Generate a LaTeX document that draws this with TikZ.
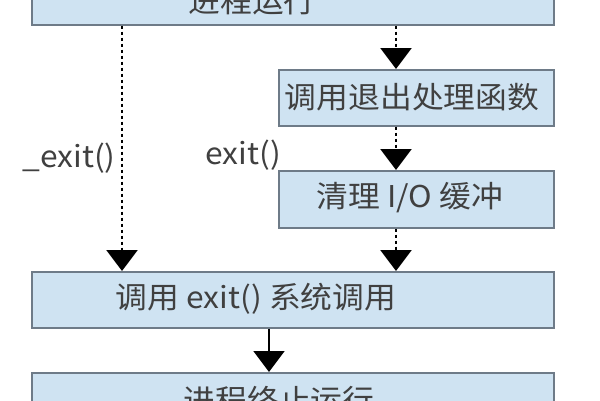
\documentclass[tikz,border=0pt]{standalone}
\usepackage{fontspec}
\setmainfont{Noto Sans CJK SC}[FakeStretch=1.06]
\usetikzlibrary{arrows.meta}
\definecolor{boxfill}{HTML}{CFE3F2}
\definecolor{boxline}{HTML}{6E7B88}
\definecolor{txt}{HTML}{404040}
\begin{document}
\begin{tikzpicture}[x=1pt,y=-1pt,
  box/.style={draw=boxline, line width=1.5pt, fill=boxfill, rectangle, inner sep=0pt, anchor=north west},
  lbl/.style={text=txt, font=\fontsize{30}{32}\selectfont, inner sep=0pt},
  dotline/.style={line width=2.4pt, dash pattern=on 3.5pt off 2.5pt, -{Triangle[width=31pt,length=21pt]}},
  solidline/.style={line width=1.8pt, -{Triangle[width=31pt,length=21pt]}}]
\useasboundingbox (0,0) rectangle (600,400);
\clip (0,0) rectangle (600,400);
\fill[white] (0,0) rectangle (600,400);
\node[box, minimum width=522pt, minimum height=64pt] (b1) at (31,-40) {};
\node[box, minimum width=275pt, minimum height=56pt] (b2) at (278,69) {};
\node[box, minimum width=275pt, minimum height=57pt] (b3) at (278,170) {};
\node[box, minimum width=522pt, minimum height=56pt] (b4) at (31,271) {};
\node[box, minimum width=522pt, minimum height=64pt] (b5) at (31,372) {};
\node[lbl] (t1) at (252,1) {进程运行};
\node[lbl] (t2) at (412,97) {调用退出处理函数};
\node[lbl] (t3) at (410,198) {清理 I/O 缓冲};
\node[lbl] (t4) at (256,299) {调用 exit() 系统调用};
\node[lbl] (t5) at (279,400) {进程终止运行};
\node[lbl] (l1) at (69,158) {\_exit()};
\node[lbl] (l2) at (243,155) {exit()};
\coordinate (xl) at (122,0);
\coordinate (xr) at (396,0);
\coordinate (xm) at (269,0);
\draw[dotline] (b1.south -| xl) -- (b4.north -| xl);
\draw[dotline] (b1.south -| xr) -- (b2.north -| xr);
\draw[dotline] (b2.south -| xr) -- (b3.north -| xr);
\draw[dotline] (b3.south -| xr) -- (b4.north -| xr);
\draw[solidline] (b4.south -| xm) -- (b5.north -| xm);
\end{tikzpicture}
\end{document}
